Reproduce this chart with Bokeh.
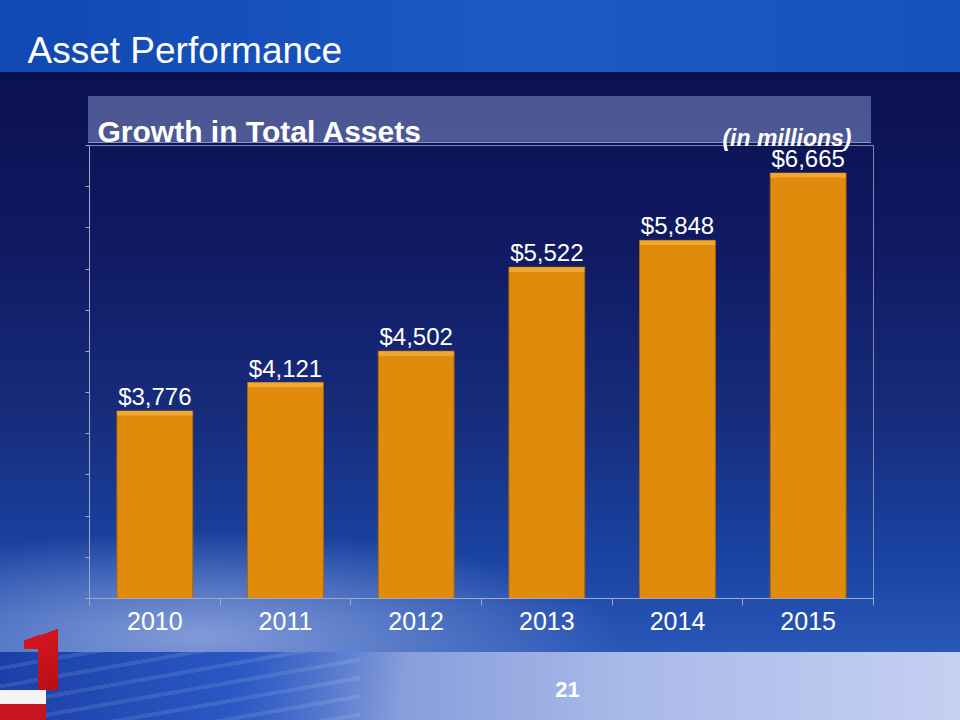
from bokeh.plotting import figure
from bokeh.models import (Range1d, LinearAxis, FixedTicker, ColumnDataSource, LabelSet, Label)
from bokeh.core.properties import value
from bokeh.embed import file_html
from bokeh.resources import INLINE

# ---- data ----
years = ["2010", "2011", "2012", "2013", "2014", "2015"]
assets = [3776, 4121, 4502, 5522, 5848, 6665]
asset_labels = ["$3,776", "$4,121", "$4,502", "$5,522", "$5,848", "$6,665"]
y_start, y_end, y_step = 1500, 7000, 500

FONT = "Liberation Sans"

bg_layers = [
    # red "1" logo and stripes
    "linear-gradient(160deg, rgba(0,0,0,0) 0 14%, #d3161e 14%, #b80e16) 38px 626px / 20px 64px no-repeat",
    "linear-gradient(160deg, rgba(0,0,0,0) 0 30%, #d3161e 30%) 24px 634px / 16px 15px no-repeat",
    "linear-gradient(#f4f4f8 0 45%, #c81420 45% 100%) 0 690px / 46px 30px no-repeat",
    # header box with light lower edge
    "linear-gradient(#8a92c4, #8a92c4) 88px 142px / 783px 1px no-repeat",
    "linear-gradient(to bottom, #4a5591, #4d5996) 88px 96px / 783px 47px no-repeat",
    # top title band
    "linear-gradient(to right, #1148b2, #1b5ac4 55%, #1552bc) 0 0 / 100% 72px no-repeat",
    # bottom band
    "repeating-linear-gradient(170deg, rgba(255,255,255,0) 0 14px, rgba(255,255,255,0.10) 14px 18px) 0 652px / 360px 68px no-repeat",
    "linear-gradient(100deg, #1b3fa6 0, #2a58c4 25%, rgba(60,100,200,0.0) 42%) 0 652px / 100% 68px no-repeat",
    "linear-gradient(to right, #3a62c4 0, #7d96d8 35%, #a9b9e8 65%, #c5d0f2 100%) 0 652px / 100% 68px no-repeat",
    # light glow bottom-left
    "radial-gradient(ellipse 420px 105px at 200px 636px, rgba(140,162,220,0.9), rgba(140,162,220,0) 100%) 0 0 / 100% 652px no-repeat",
    # main body
    "linear-gradient(to bottom, #0a1150 72px, #111b64 258px, #172e7e 428px, #1b45a5 568px, #2a58b8 652px) 0 0 / 100% 100% no-repeat",
]

n = len(years)
centers = [i + 0.5 for i in range(n)]
edges = list(range(n + 1))
y_ticks = list(range(y_start, y_end + 1, y_step))

p = figure(width=960, height=720, output_backend="svg", toolbar_location=None,
           x_range=Range1d(0, n), y_range=Range1d(y_start, y_end),
           x_axis_location=None, y_axis_location=None, title=None,
           min_border_left=89, min_border_right=87, min_border_top=145, min_border_bottom=122,
           background_fill_color=None, border_fill_color=None)
p.styles = {"background": ", ".join(bg_layers)}
p.grid.visible = False
p.outline_line_color = "#9aa2c4"
p.outline_line_alpha = 0.8

# x axis: labels at category centres, tick marks at category boundaries
xaxis = LinearAxis(ticker=FixedTicker(ticks=centers, minor_ticks=edges),
                   major_label_overrides={c: y for c, y in zip(centers, years)})
xaxis.axis_line_color = "#a0a8c8"
xaxis.major_tick_line_color = None
xaxis.major_tick_out = 7
xaxis.minor_tick_line_color = "#a0a8c8"
xaxis.minor_tick_out = 7
xaxis.minor_tick_in = 0
xaxis.major_label_text_color = "white"
xaxis.major_label_text_font = FONT
xaxis.major_label_text_font_size = "25px"
xaxis.major_label_standoff = 6
p.add_layout(xaxis, "below")

# y axis: line with small tick marks only
yaxis = LinearAxis(ticker=FixedTicker(ticks=[], minor_ticks=y_ticks))
yaxis.axis_line_color = "#a0a8c8"
yaxis.minor_tick_line_color = "#a0a8c8"
yaxis.minor_tick_out = 4
yaxis.minor_tick_in = 0
yaxis.major_tick_line_color = None
p.add_layout(yaxis, "left")

bevel = 55  # thickness of the lighter top edge, in value units (~4.5 px)
src = ColumnDataSource(data=dict(x=centers, year=years, value=assets, label=asset_labels,
                                 base=[y_start] * n, bevel=[v - bevel for v in assets]))
p.vbar(x="x", top="value", bottom="base", width=0.58, source=src,
       fill_color="#E08B0B", line_color="#A86A06", line_width=1)
p.vbar(x="x", top="value", bottom="bevel", width=0.575, source=src,
       fill_color="#F0A834", line_color=None)

labels = LabelSet(x="x", y="value", text="label", source=src, y_offset=6,
                  text_align="center", text_baseline="alphabetic", text_color="white",
                  text_font=value(FONT), text_font_size="24px")
p.add_layout(labels)

def canvas_label(x, y, text, size, side, style="normal", align="left"):
    lab = Label(x=x, y=y, x_units="canvas", y_units="canvas", text=text,
                text_color="white", text_font=FONT, text_font_size=size,
                text_font_style=style, text_align=align, text_baseline="alphabetic")
    p.add_layout(lab, side)

canvas_label(27, 50, "Asset Performance", "37px", "above")
canvas_label(97, 131, "Growth in Total Assets", "30px", "above", "bold")
canvas_label(851, 137, "(in millions)", "23px", "above", "bold italic", "right")
canvas_label(567, 689, "21", "22px", "below", "bold", "center")

open("out.html", "w").write(file_html(p, INLINE))
